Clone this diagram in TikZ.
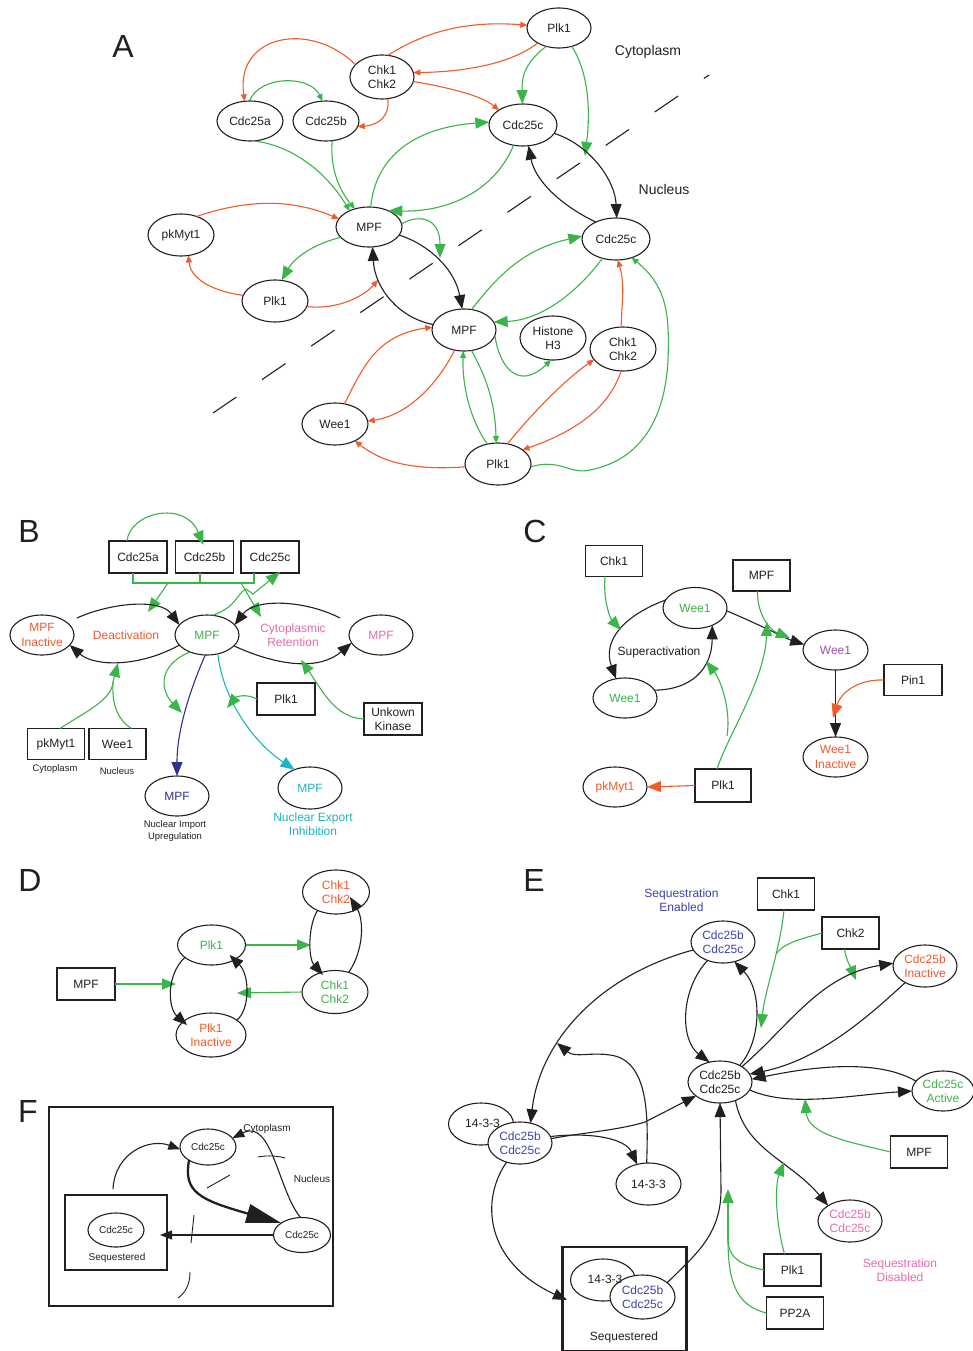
\documentclass[tikz,border=0pt]{standalone}
\usepackage{fontspec}
\setmainfont{Liberation Sans}
\usetikzlibrary{arrows.meta,shapes.geometric,calc}
\definecolor{cR}{RGB}{241,90,41}
\definecolor{cG}{RGB}{57,181,74}
\definecolor{cK}{RGB}{35,31,32}
\definecolor{cP}{RGB}{233,107,174}
\definecolor{cB}{RGB}{46,49,146}
\definecolor{cBt}{RGB}{60,68,170}
\definecolor{cC}{RGB}{32,180,192}
\definecolor{cV}{RGB}{160,80,170}
\newcommand\fsn{\fontsize{12}{14.5}\selectfont}
\newcommand\fss{\fontsize{9.5}{11.5}\selectfont}
\newcommand\fsf{\fontsize{10}{12}\selectfont}
\newcommand\fsl{\fontsize{32}{36}\selectfont}
\newcommand\fsr{\fontsize{14}{17}\selectfont}
\begin{document}
\begin{tikzpicture}[x=1pt,y=-1pt,
  every node/.style={inner sep=0pt,outer sep=0pt,align=center,text=cK},
  el/.style={ellipse,draw=cK,line width=1.1pt,minimum width=66pt,minimum height=42pt,font=\fsn},
  bx/.style={rectangle,draw=cK,line width=1.1pt,minimum width=57pt,minimum height=31pt,font=\fsn},
  lbl/.style={font=\fsn},
  ln/.style={line width=1.1pt},
  rl/.style={ln,draw=cR},
  gl/.style={ln,draw=cG},
  kl/.style={ln,draw=cK},
  as/.style={-{Triangle[length=7pt,width=6pt]}},
  ab/.style={-{Triangle[length=14pt,width=11pt]}},
  am/.style={-{Triangle[length=12pt,width=9pt]}},
]
\useasboundingbox (0,0) rectangle (973,1351);
\fill[white] (0,0) rectangle (973,1351);

%%%%%%%%%%%%%%%%%%%% Panel A
\node[font=\fsl] (labA) at (123,46) {A};
\node[font=\fsr] (cytA) at (648,52) {Cytoplasm};
\node[font=\fsr] (nucA) at (664,189) {Nucleus};
\coordinate (dA1) at (213,413); \coordinate (dA2) at (709,75);
\draw[kl,dash pattern=on 28.3pt off 31.1pt] (dA1) -- (dA2);

\node[el,minimum width=64pt,minimum height=40pt] (plkA) at (559,28) {Plk1};
\node[el,minimum width=64pt,minimum height=44pt] (chkA) at (382,77) {Chk1\\Chk2};
\node[el,minimum height=40pt] (c25a) at (250,121) {Cdc25a};
\node[el,minimum height=40pt] (c25b) at (326,121) {Cdc25b};
\node[el,minimum width=68pt] (c25cA) at (523,125) {Cdc25c};
\node[el,minimum width=68pt] (c25cN) at (616,239) {Cdc25c};
\node[el,minimum height=40pt] (mpfA) at (369,227) {MPF};
\node[el] (myt) at (181,235) {pkMyt1};
\node[el] (plkM) at (275,301) {Plk1};
\node[el,minimum width=64pt] (mpfN) at (464,330) {MPF};
\node[el,minimum height=44pt] (his) at (553,338) {Histone\\H3};
\node[el,minimum height=44pt] (chkN) at (623,349) {Chk1\\Chk2};
\node[el] (weeA) at (335,424) {Wee1};
\node[el] (plkB) at (498,464) {Plk1};

\coordinate (endA1) at (585,156);
\coordinate (endA2) at (378,280);
\coordinate (endA3) at (440,258);

\draw[rl,as] (chkA.75) .. controls (420,35) and (460,20) .. (plkA.175);
\draw[rl,as] (plkA.215) .. controls (510,65) and (460,72) .. (chkA.8);
\draw[rl,as] (chkA.155) .. controls (310,20) and (235,35) .. (c25a.105);
\draw[rl,as] (chkA.285) .. controls (390,115) and (380,125) .. (c25b.350);
\draw[rl,as] (chkA.352) .. controls (450,88) and (480,95) .. (c25cA.148);
\draw[gl,as] (c25a.92) .. controls (260,75) and (310,75) .. (c25b.100);
\draw[gl,as] (c25a.280) .. controls (290,145) and (325,170) .. (mpfA.140);
\draw[gl,as] (c25b.288) .. controls (330,160) and (335,185) .. (mpfA.128);
\draw[gl,ab] (plkA.235) .. controls (522,65) and (522,80) .. (c25cA.92);
\draw[gl,ab] (plkA.305) .. controls (590,75) and (590,115) .. (endA1);
\draw[gl,ab] (mpfA.85) .. controls (375,160) and (410,128) .. (c25cA.175);
\draw[gl,ab] (c25cA.245) .. controls (495,190) and (450,212) .. (mpfA.40);
\draw[kl,ab] (c25cA.345) .. controls (590,145) and (615,180) .. (c25cN.88);
\draw[kl,ab] (c25cN.140) .. controls (560,205) and (535,180) .. (c25cA.285);
\draw[rl,as] (myt.50) .. controls (245,200) and (290,198) .. (mpfA.165);
\draw[gl,ab] (mpfA.200) .. controls (310,245) and (293,260) .. (plkM.72);
\draw[rl,as] (plkM.170) .. controls (205,290) and (190,275) .. (myt.290);
\draw[rl,as] (plkM.350) .. controls (340,310) and (365,295) .. (endA2);
\draw[gl,ab] (mpfA.5) .. controls (415,215) and (440,215) .. (endA3);
\draw[kl,ab] (mpfA.345) .. controls (430,245) and (455,270) .. (mpfN.95);
\draw[kl,ab] (mpfN.170) .. controls (400,318) and (375,290) .. (mpfA.280);
\draw[gl,ab] (mpfN.70) .. controls (495,280) and (520,250) .. (c25cN.175);
\draw[gl,ab] (c25cN.235) .. controls (575,295) and (540,320) .. (mpfN.15);
\draw[gl,as] (mpfN.350) .. controls (500,370) and (520,390) .. (his.265);
\draw[rl,as] (chkN.95) .. controls (622,300) and (625,285) .. (c25cN.275);
\draw[rl,as] (weeA.65) .. controls (362,370) and (375,335) .. (mpfN.175);
\draw[rl,as] (mpfN.245) .. controls (440,380) and (410,415) .. (weeA.5);
\draw[gl,as] (plkB.118) .. controls (470,420) and (462,385) .. (mpfN.268);
\draw[gl,as] (mpfN.290) .. controls (485,375) and (495,400) .. (plkB.95);
\draw[rl,as] (plkB.185) .. controls (420,470) and (385,465) .. (weeA.320);
\draw[rl,as] (plkB.65) .. controls (535,410) and (565,380) .. (chkN.200);
\draw[rl,as] (chkN.265) .. controls (610,405) and (580,430) .. (plkB.30);
\draw[gl,as] (plkB.355) .. controls (560,458) and (570,475) .. (590,470) .. controls (640,460) and (665,420) .. (668,360) .. controls (670,310) and (665,285) .. (c25cN.310);

%%%%%%%%%%%%%%%%%%%% Panel B
\node[font=\fsl] (labB) at (29,531) {B};
\node[bx,minimum width=58pt,minimum height=32pt] (c25aB) at (138,557) {Cdc25a};
\node[bx,minimum width=58pt,minimum height=32pt] (c25bB) at (204.5,557) {Cdc25b};
\node[bx,minimum width=58pt,minimum height=32pt] (c25cB) at (270,557) {Cdc25c};
\coordinate (brL) at (133,583); \coordinate (brM) at (200,583); \coordinate (brR) at (254,583);
\draw[gl] (c25aB.south -| brL) -- (brL) -- (brR) -- (c25cB.south -| brR);
\draw[gl] (c25bB.south -| brM) -- (brM);
\coordinate (bo1) at (168,583); \coordinate (tB1) at (148,612);
\draw[gl,ab] (bo1) -- (tB1);
\coordinate (bo2) at (241,583); \coordinate (tB2) at (261,617);
\draw[gl,ab] (bo2) -- (tB2);
\draw[gl,ab] ($(c25aB.north)+(-11,0)$) .. controls (130,512) and (185,500) .. ($(c25bB.north)+(-1,4)$);

\node[el,minimum width=64pt,minimum height=40pt,text=cR] (mpfInB) at (42,635) {MPF\\Inactive};
\node[lbl,text=cR] (deact) at (126,635) {Deactivation};
\node[el,minimum width=64pt,minimum height=40pt,text=cG] (mpfB) at (207,635) {MPF};
\node[lbl,text=cP] (retB) at (293,635) {Cytoplasmic\\Retention};
\node[el,minimum width=64pt,minimum height=40pt,text=cP] (mpfPB) at (381,635) {MPF};
\draw[gl,ab] (mpfB.75) .. controls (236,608) and (238,592) .. (246,589) -- (253,594) -- ($(c25cB.south)+(10,-1)$);

\coordinate (arcB1) at (77,618);
\draw[kl,ab] (arcB1) .. controls (110,603) and (160,598) .. (mpfB.160);
\draw[kl,ab] (mpfB.200) .. controls (140,667) and (95,667) .. (mpfInB.340);
\coordinate (arcB2) at (340,618);
\draw[kl,ab] (arcB2) .. controls (305,600) and (255,598) .. (mpfB.20);
\draw[kl,ab] (mpfB.338) .. controls (280,667) and (320,670) .. (mpfPB.195);

\node[bx] (pkB) at (56,744) {pkMyt1};
\node[bx] (weB) at (117.5,744) {Wee1};
\node[font=\fss] (cytB) at (55,769) {Cytoplasm};
\node[font=\fss] (nucB) at (117,771) {Nucleus};
\coordinate (jB) at (113,682); \coordinate (tB3) at (118,663);
\draw[gl] ($(pkB.north)+(4,0)$) .. controls (85,712) and (112,700) .. (jB);
\draw[gl] ($(weB.north)+(14,0)$) .. controls (115,718) and (112,700) .. (jB);
\draw[gl,ab] (jB) -- (tB3);

\coordinate (tB4) at (182,713);
\draw[gl,ab] (mpfB.225) .. controls (158,665) and (160,690) .. (tB4);
\node[el,minimum width=64pt,minimum height=40pt,text=cB] (mpfBl) at (177,796) {MPF};
\node[font=\fss] (nimp) at (175,831) {Nuclear Import\\Upregulation};
\draw[ln,draw=cB,ab] (mpfB.265) .. controls (190,690) and (177,730) .. (mpfBl.90);
\node[el,minimum width=64pt,text=cC] (mpfCy) at (310,788) {MPF};
\node[lbl,text=cC] (nexp) at (313,824) {Nuclear Export\\Inhibition};
\draw[ln,draw=cC,ab] (mpfB.300) .. controls (222,695) and (250,740) .. (mpfCy.130);
\node[bx,minimum width=58pt,minimum height=32pt] (plkBB) at (286,699) {Plk1};
\coordinate (tB5) at (227,708);
\draw[gl,ab] (plkBB.west) .. controls (245,693) and (236,697) .. (tB5);
\node[bx,minimum width=58pt,minimum height=32pt] (kinB) at (393,719) {Unkown\\Kinase};
\coordinate (tB6) at (301,660);
\draw[gl,ab] (kinB.west) .. controls (335,718) and (322,690) .. (tB6);

%%%%%%%%%%%%%%%%%%%% Panel C
\node[font=\fsl] (labC) at (535,531) {C};
\node[bx,minimum width=57pt] (chkC) at (614,561) {Chk1};
\node[bx,minimum width=57pt] (mpfC) at (761.5,575.5) {MPF};
\node[el,minimum width=64pt,minimum height=41pt,text=cG] (weeC1) at (695,608) {Wee1};
\node[el,minimum width=64pt,minimum height=40pt,text=cG] (weeC2) at (625,698) {Wee1};
\node[el,minimum width=65pt,minimum height=40pt,text=cV] (weeCp) at (835.5,650) {Wee1};
\node[bx,minimum width=58pt] (pinC) at (913,680) {Pin1};
\node[el,minimum width=65pt,minimum height=40pt,text=cR] (weeCi) at (835.5,757) {Wee1\\Inactive};
\node[el,minimum width=64pt,minimum height=40pt,text=cR] (pkC) at (615,787) {pkMyt1};
\node[bx,minimum width=56pt,minimum height=33pt] (plkC) at (723,785.5) {Plk1};
\node[lbl] (supC) at (659,652) {Superactivation};

\draw[kl,ab] (weeC1.165) .. controls (625,615) and (602,640) .. (weeC2.115);
\draw[kl,ab] (weeC2.15) .. controls (690,690) and (712,670) .. (weeC1.315);
\draw[kl,ab] (weeC1.355) .. controls (760,625) and (790,640) .. (weeCp.170);
\coordinate (tC1) at (621,630);
\draw[gl,ab] ($(chkC.south)+(-9,0)$) .. controls (603,600) and (610,618) .. (tC1);
\coordinate (tC2) at (790,638);
\draw[gl,ab] ($(mpfC.south)+(-4,0)$) .. controls (757,615) and (770,630) .. (tC2);
\coordinate (tC3) at (767,622);
\draw[gl,ab] ($(plkC.north)+(-6,0)$) .. controls (728,735) and (765,680) .. (tC3);
\coordinate (brC) at (727,736); \coordinate (tC4) at (706,661);
\draw[gl,ab] (brC) .. controls (731,712) and (722,682) .. (tC4);
\draw[rl,ab] (plkC.west) -- (pkC.east);
\draw[kl,ab] (weeCp.south) -- (weeCi.north);
\coordinate (tC5) at (833,718);
\draw[rl,ab] (pinC.west) .. controls (855,679) and (840,695) .. (tC5);

%%%%%%%%%%%%%%%%%%%% Panel D
\node[font=\fsl] (labD) at (30,880) {D};
\node[bx,minimum width=58pt,minimum height=32pt] (mpfD) at (86,984) {MPF};
\node[el,minimum width=68pt,minimum height=40pt,text=cG] (plkD) at (211.5,945) {Plk1};
\node[el,minimum width=70pt,minimum height=44pt,text=cR] (plkDi) at (211,1035) {Plk1\\Inactive};
\node[el,minimum width=67pt,minimum height=44pt,text=cR] (chkDr) at (336,892) {Chk1\\Chk2};
\node[el,minimum width=66pt,minimum height=43pt,text=cG] (chkDg) at (335,992) {Chk1\\Chk2};
\coordinate (tD1) at (176,984);
\draw[gl,ab] (mpfD.east) -- (tD1);
\coordinate (tD2) at (311,945);
\draw[gl,ab] (plkD.east) -- (tD2);
\coordinate (tD3) at (237,993);
\draw[gl,ab] (chkDg.west) -- (tD3);
\draw[kl,ab] (plkD.205) .. controls (166,975) and (168,1008) .. ($(plkDi.center)+(-24,-10)$);
\draw[kl,ab] (plkDi.30) .. controls (250,1010) and (250,975) .. ($(plkD.center)+(18,10)$);
\draw[kl,ab] (chkDr.225) .. controls (308,925) and (308,958) .. ($(chkDg.center)+(-12,-17)$);
\draw[kl,ab] (chkDg.55) .. controls (364,950) and (364,920) .. ($(chkDr.center)+(14,5)$);

%%%%%%%%%%%%%%%%%%%% Panel F
\node[font=\fsl] (labF) at (28,1111) {F};
\node[draw=cK,line width=2pt,minimum width=284pt,minimum height=199pt] (frameF) at (191,1206.5) {};
\node[draw=cK,line width=2pt,minimum width=102pt,minimum height=75pt] (seqF) at (116,1232.5) {};
\node[el,minimum width=56pt,minimum height=36pt,font=\fsf] (c25cFt) at (208,1147) {Cdc25c};
\node[el,minimum width=57pt,minimum height=35pt,font=\fsf] (c25cFr) at (302,1235) {Cdc25c};
\node[el,minimum width=56pt,minimum height=34pt,font=\fsf] (c25cFs) at (116,1230) {Cdc25c};
\node[font=\fsf] (seqFt) at (117,1258) {Sequestered};
\node[font=\fsf] (cytF) at (267,1129) {Cytoplasm};
\node[font=\fsf] (nucF) at (312,1179) {Nucleus};
\coordinate (sF1) at (113,1189);
\draw[kl,am] (sF1) .. controls (115,1152) and (150,1138) .. (c25cFt.185);
\draw[line width=2.3pt,draw=cK,-{Triangle[length=35pt,width=19pt]}] (c25cFt.215) .. controls (183,1192) and (200,1200) .. (c25cFr.150);
\coordinate (tF1) at (160,1235);
\draw[kl,am] (c25cFr.west) -- (tF1);
\draw[kl,am] (c25cFr.95) .. controls (278,1190) and (272,1118) .. (c25cFt.20);
\draw[kl,line width=0.9pt] (258,1157) .. controls (268,1155) and (278,1156) .. (285,1158);
\draw[kl,line width=0.9pt] (207,1188) -- (230,1175);
\draw[kl,line width=0.9pt] (194,1215) -- (191,1243);
\draw[kl,line width=0.9pt] (190,1272) .. controls (190,1285) and (185,1293) .. (178,1298);

%%%%%%%%%%%%%%%%%%%% Panel E
\node[font=\fsl] (labE) at (534,880) {E};
\node[lbl,text=cBt] (seqEn) at (681.5,900) {Sequestration\\Enabled};
\node[bx,minimum width=57pt,minimum height=32pt] (chk1E) at (786,894) {Chk1};
\node[bx,minimum width=57pt,minimum height=32pt] (chk2E) at (850.5,933) {Chk2};
\node[el,minimum width=64pt,minimum height=42pt,text=cBt] (bTop) at (723,942) {Cdc25b\\Cdc25c};
\node[el,minimum width=64pt,minimum height=42pt,text=cR] (inE) at (925,966) {Cdc25b\\Inactive};
\node[el,minimum width=64pt,minimum height=42pt] (cE) at (720,1082) {Cdc25b\\Cdc25c};
\node[el,minimum width=62pt,minimum height=40pt,text=cG] (acE) at (943,1091) {Cdc25c\\Active};
\node[el,minimum width=65pt,minimum height=42pt] (l14a) at (481,1124) {};
\node[el,minimum width=64pt,minimum height=42pt,fill=white,text=cBt] (lcE) at (520,1143) {Cdc25b\\Cdc25c};
\node[font=\fsn] (l14at) at (482.5,1123) {14-3-3};
\node[el,minimum width=65pt,minimum height=42pt] (l14) at (648.5,1184) {14-3-3};
\node[bx,minimum width=57pt,minimum height=32pt] (mpfE) at (919,1152) {MPF};
\node[el,minimum width=64pt,minimum height=42pt,text=cP] (pkE) at (850,1221) {Cdc25b\\Cdc25c};
\node[bx,minimum width=57pt,minimum height=32pt] (plkE) at (792.5,1270) {Plk1};
\node[bx,minimum width=57pt,minimum height=32pt] (ppE) at (795,1313) {PP2A};
\node[lbl,text=cP] (seqDis) at (900,1270) {Sequestration\\Disabled};
\node[draw=cK,line width=2.4pt,minimum width=124pt,minimum height=104pt] (seqE) at (624.5,1299) {};
\node[el,minimum width=65pt,minimum height=42pt] (s14) at (603,1280) {};
\node[el,minimum width=65pt,minimum height=44pt,fill=white,text=cBt] (sqC) at (642.5,1297) {Cdc25b\\Cdc25c};
\node[font=\fsn] (s14t) at (605,1279) {14-3-3};
\node[font=\fsn] (seqEt) at (624,1337) {Sequestered};

\draw[kl,ab] (bTop.195) .. controls (600,975) and (540,1040) .. (lcE.62);
\draw[kl,ab] (bTop.230) .. controls (680,990) and (680,1040) .. (cE.118);
\draw[kl,ab] (cE.40) .. controls (762,1040) and (762,990) .. (bTop.300);
\coordinate (tE1) at (761,1028);
\draw[gl,ab] ($(chk1E.south)+(-2,0)$) .. controls (780,950) and (765,990) .. (tE1);
\coordinate (jE1) at (777,953);
\draw[gl] (chk2E.west) .. controls (805,938) and (785,942) .. (jE1);
\coordinate (tE2) at (856,980);
\draw[gl,ab] ($(chk2E.south)+(-6,0)$) .. controls (846,960) and (851,968) .. (tE2);
\draw[kl,ab] (cE.35) .. controls (790,1025) and (820,975) .. (inE.175);
\draw[kl,ab] (inE.220) .. controls (870,1015) and (820,1060) .. (cE.15);
\draw[kl,ab] (acE.160) .. controls (880,1060) and (820,1065) .. (cE.5);
\draw[kl,ab] (cE.345) .. controls (790,1108) and (850,1095) .. (acE.180);
\coordinate (tE3) at (805,1099);
\draw[gl,ab] (mpfE.west) .. controls (850,1142) and (808,1135) .. (tE3);
\draw[kl,ab] (cE.310) .. controls (745,1150) and (790,1160) .. (pkE.145);
\coordinate (tE4) at (784,1162);
\draw[gl,ab] ($(plkE.north)+(-8,0)$) .. controls (775,1220) and (775,1185) .. (tE4);
\coordinate (jE2) at (728,1240); \coordinate (tE5) at (728,1189);
\draw[gl] (plkE.west) .. controls (738,1265) and (728,1255) .. (jE2);
\draw[gl] (ppE.west) .. controls (738,1306) and (728,1285) .. (jE2);
\draw[gl,ab] (jE2) -- (tE5);
\draw[kl,ab] (sqC.30) .. controls (695,1255) and (721,1235) .. (721,1190) -- (cE.270);
\draw[kl,ab] (lcE.8) .. controls (580,1133) and (620,1130) .. (645,1122) -- (cE.210);
\draw[kl,ab] (lcE.12) .. controls (590,1132) and (625,1138) .. (l14.120);
\coordinate (tE6) at (557,1043);
\draw[kl,ab] (l14.95) .. controls (648,1120) and (650,1060) .. (610,1055) .. controls (590,1052) and (575,1058) .. (tE6);
\coordinate (tE7) at (567,1300);
\draw[kl,ab] (lcE.235) .. controls (480,1200) and (485,1262) .. (tE7);
\end{tikzpicture}
\end{document}
